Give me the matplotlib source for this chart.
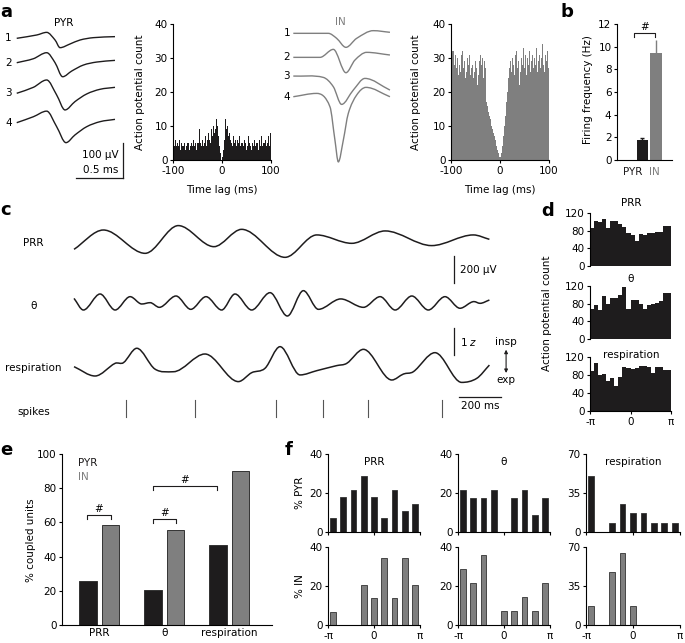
import numpy as np
import matplotlib
matplotlib.use('Agg')
import matplotlib.pyplot as plt
import matplotlib.patches as patches
from matplotlib.path import Path

# ------------------------------------------------------------
# Data
# ------------------------------------------------------------
# panel a: mean spike waveforms on 4 channels (time in ms, amplitude in uV)
pyr_wave_t = [
    [0, 0.213, 0.319, 0.408, 0.461, 0.567, 0.674, 0.816, 1.046],
    [0, 0.177, 0.319, 0.408, 0.489, 0.585, 0.709, 0.851, 1.046],
    [0, 0.177, 0.319, 0.425, 0.514, 0.620, 0.745, 0.887, 1.046],
    [0, 0.177, 0.319, 0.425, 0.524, 0.620, 0.745, 0.887, 1.046],
]
pyr_wave_v = [
    [0, 9.5, 17, -4.8, -26.7, -16.2, -4.8, 1.9, 4.8],
    [0, 11.4, 28.6, 0, -40, -23.8, -6.7, 1.9, 6.7],
    [0, 17, 38, -4.8, -47.6, -23.8, -1.9, 11.4, 17],
    [0, 17, 33, -11.4, -57, -35, -11.4, 2.9, 9.5],
]
in_wave_t = [
    [0, 0.372, 0.461, 0.560, 0.674, 0.851, 1.028],
    [0, 0.284, 0.426, 0.560, 0.656, 0.780, 1.028],
    [0, 0.319, 0.426, 0.514, 0.638, 0.762, 1.028],
    [0, 0.248, 0.390, 0.443, 0.479, 0.532, 0.585, 0.674, 0.773, 1.028],
]
in_wave_v = [
    [0, 0, -14.3, -40, -14.3, 7.6, 2.9],
    [0, 0, 22.8, -43.8, -7.6, 14.3, 6.7],
    [0, -3.8, -30.5, -80.9, -40, -6.7, -40],
    [0, 9.5, -28.6, -124, -186, -124, -47.6, 4.8, 26.7, 0],
]

# panel a: autocorrelograms, 2 ms bins from -100 to 100 ms
pyr_acg = [8, 4, 6, 4, 5, 4, 6, 3, 5, 4, 4, 5, 3, 4, 5, 5, 3, 4, 5, 4,
           6, 4, 5, 3, 5, 6, 5, 9, 5, 4, 6, 4, 5, 7, 4, 6, 8, 6, 5, 9,
           7, 10, 8, 9, 12, 10, 7, 4, 2, 0,
           1, 3, 6, 12, 9, 10, 7, 8, 6, 5, 4, 7, 5, 6, 4, 6, 5, 7, 4, 5,
           5, 4, 6, 5, 3, 6, 4, 7, 5, 4, 3, 5, 4, 6, 4, 5, 5, 3, 6, 4,
           7, 4, 5, 5, 6, 4, 5, 7, 4, 8]
in_acg = [26, 32, 32, 28, 31, 27, 30, 25, 28, 26, 31, 32, 27, 29, 24, 26, 30, 28, 31, 25,
          27, 28, 24, 26, 29, 30, 27, 22, 25, 29, 31, 28, 30,
          24, 29, 27, 17, 16, 14, 13, 12, 10, 9, 8, 7, 6, 4, 3, 2, 1,
          1, 2, 4, 7, 10, 13, 17, 20, 24, 27, 29, 26, 30, 28, 25, 31, 32, 27, 29, 22,
          26, 30, 28, 33, 27, 29, 31, 25, 30, 28, 32, 26, 29, 31, 27, 30, 28, 33, 26, 29,
          31, 27, 30, 34, 28, 26, 31, 29, 32, 27]

# panel b: firing frequency
cell_types = ['PYR', 'IN']
rate_mean = [1.75, 9.45]
rate_err = [0.15, 1.15]

# panel c: example traces (time in ms)
prr_t = [0, 141, 341, 500, 671, 804, 1012, 1164, 1332, 1492, 1715, 1915, 1992]
prr_v = [-70, 75, -100, 108, -50, 80, -130, 38, -25, 68, -42, 38, 5]
theta_t = [0, 45, 125, 197, 269, 325, 365, 409, 489, 560, 633, 708, 772, 852, 940,
           1023, 1100, 1172, 1279, 1388, 1468, 1540, 1620, 1699, 1779, 1851, 1918, 1947, 1992]
theta_v = [12, -75, 45, -75, 25, -30, -20, -55, 30, -70, 25, -75, 45, -75, 55,
           -120, 70, -70, 8, -55, 25, -75, 30, -75, 25, -62, -12, -25, 0]
resp_t = [0, 101, 197, 237, 301, 388, 476, 628, 788, 852, 916, 988, 1084, 1164,
          1260, 1308, 1388, 1524, 1580, 1627, 1731, 1859, 1931, 1992]
resp_z = [0, -0.35, 0.125, 0.15, 0.69, -0.09, -0.19, 0.475, -0.56, -0.225, -0.06, 0.75,
          -0.31, -0.15, 0.04, 0.125, 0.65, -0.5, -0.275, -0.19, 0.525, -0.59, -0.44, 0.06]
spike_times = [249, 580, 969, 1194, 1410, 1765]

# panel d: spike phase histograms (20 bins, -pi..pi)
d_titles = ['PRR', 'θ', 'respiration']
d_counts = [
    [85, 103, 99, 106, 85, 103, 101, 95, 88, 75, 70, 57, 72, 70, 74, 75, 76, 77, 91, 91],
    [67, 76, 65, 98, 79, 93, 92, 100, 118, 69, 89, 88, 79, 69, 76, 79, 81, 87, 104, 104],
    [89, 107, 80, 82, 66, 73, 56, 76, 97, 95, 93, 96, 99, 100, 98, 85, 98, 97, 91, 91],
]

# panel e: % coupled units
rhythms = ['PRR', 'θ', 'respiration']
coupled_pyr = [25.5, 20.3, 47.0]
coupled_in = [58.6, 55.5, 90.3]

# panel f: preferred phase distributions (9 bins, -pi..pi)
f_ymax = [40, 40, 70]
f_yticks = [[0, 20, 40], [0, 20, 40], [0, 35, 70]]
f_pyr = [
    [7.1, 17.9, 21.4, 28.6, 17.9, 7.1, 21.4, 10.7, 14.3],
    [21.7, 17.4, 17.4, 21.7, 0, 17.4, 21.7, 8.7, 17.4],
    [50.0, 0, 8.3, 25.0, 16.7, 16.7, 8.3, 8.3, 8.3],
]
f_in = [
    [6.9, 0, 0, 20.7, 13.8, 34.5, 13.8, 34.5, 20.7],
    [28.6, 21.4, 35.7, 0, 7.1, 7.1, 14.3, 7.1, 21.4],
    [16.7, 0, 47.6, 64.3, 16.7, 0, 0, 0, 0],
]

# ------------------------------------------------------------
# Style
# ------------------------------------------------------------
plt.rcParams['font.family'] = ['DejaVu Sans']
plt.rcParams['font.size'] = 7.5
plt.rcParams['axes.linewidth'] = 0.8
plt.rcParams['xtick.major.size'] = 2.5
plt.rcParams['ytick.major.size'] = 2.5
plt.rcParams['xtick.major.width'] = 0.8
plt.rcParams['ytick.major.width'] = 0.8
plt.rcParams['xtick.major.pad'] = 1.5
plt.rcParams['ytick.major.pad'] = 1.5
plt.rcParams['xtick.labelsize'] = 7.5
plt.rcParams['ytick.labelsize'] = 7.5

BLACK = '#1e1c1d'
GRAY = '#7f7f7f'
EDGE = '#333333'
FS = 7.5

W, H = 685, 643
fig = plt.figure(figsize=(W / 100, H / 100), dpi=100)


def box(x0, y0, x1, y1):
    # axes from pixel box (y measured from the top)
    return fig.add_axes([x0 / W, 1 - y1 / H, (x1 - x0) / W, (y1 - y0) / H])


def ftext(x, y, s, **kw):
    fig.text(x / W, 1 - y / H, s, **kw)


def clean(ax):
    ax.spines['top'].set_visible(False)
    ax.spines['right'].set_visible(False)


def smooth_line(ax, x, y, **kw):
    # smooth curve through the read points (flat at local extrema)
    x = np.asarray(x, float)
    y = np.asarray(y, float)
    n = len(x)
    s = np.zeros(n)
    for i in range(n):
        if i == 0:
            s[i] = (y[1] - y[0]) / (x[1] - x[0])
        elif i == n - 1:
            s[i] = (y[-1] - y[-2]) / (x[-1] - x[-2])
        elif (y[i] - y[i - 1]) * (y[i + 1] - y[i]) <= 0:
            s[i] = 0
        else:
            s[i] = (y[i + 1] - y[i - 1]) / (x[i + 1] - x[i - 1])
    verts = [(x[0], y[0])]
    codes = [Path.MOVETO]
    for i in range(n - 1):
        h = x[i + 1] - x[i]
        verts += [(x[i] + h / 3, y[i] + s[i] * h / 3),
                  (x[i + 1] - h / 3, y[i + 1] - s[i + 1] * h / 3),
                  (x[i + 1], y[i + 1])]
        codes += [Path.CURVE4] * 3
    ax.add_patch(patches.PathPatch(Path(verts, codes), fill=False, **kw))


# ============================================================
# Panel a: waveforms
# ============================================================
ftext(0, 12, 'a', fontsize=13, fontweight='bold', va='center')

ax = box(0, 10, 135, 185)
ax.set_xlim(-0.178, 1.259)
ax.set_ylim(-419, 80.9)
ax.axis('off')
pyr_offsets = [0, -69.7, -157, -241]
for k in range(4):
    smooth_line(ax, pyr_wave_t[k], np.array(pyr_wave_v[k]) + pyr_offsets[k],
                color=BLACK, lw=1.0)
    ax.text(-0.09, pyr_offsets[k], str(k + 1), ha='center', va='center', fontsize=FS)
ax.text(0.5, 44, 'PYR', ha='center', va='center', fontsize=FS)
# scale bars: 100 uV, 0.5 ms
ax.plot([1.131, 1.131], [-299, -399], color=BLACK, lw=0.9)
ax.plot([0.631, 1.131], [-399, -399], color=BLACK, lw=0.9)
ax.text(1.08, -334, '100 µV', ha='right', va='center', fontsize=FS)
ax.text(1.08, -377, '0.5 ms', ha='right', va='center', fontsize=FS)

ax = box(280, 10, 400, 185)
ax.set_xlim(-0.1415, 1.135)
ax.set_ylim(-433, 66.6)
ax.axis('off')
in_offsets = [0, -68.6, -122, -181]
for k in range(4):
    smooth_line(ax, in_wave_t[k], np.array(in_wave_v[k]) + in_offsets[k],
                color=GRAY, lw=1.0)
    ax.text(-0.07, in_offsets[k], str(k + 1), ha='center', va='center', fontsize=FS)
ax.text(0.5, 33, 'IN', ha='center', va='center', fontsize=FS, color=GRAY)

# autocorrelograms
edges = np.arange(-100, 100, 2)
for (x0, x1), vals, col, lx in [((173, 271), pyr_acg, BLACK, 140),
                                ((451, 549), in_acg, GRAY, 416)]:
    ax = box(x0, 24, x1, 160)
    ax.bar(edges, vals, width=2, align='edge', color=col, linewidth=0)
    ax.set_xlim(-100, 100)
    ax.set_ylim(0, 40)
    ax.set_xticks([-100, 0, 100])
    ax.set_xticklabels(['-100', '0', '100'])
    ax.set_yticks([0, 10, 20, 30, 40])
    clean(ax)
    ftext(lx, 92, 'Action potential count', rotation=90, ha='center', va='center', fontsize=FS)
    ftext((x0 + x1) / 2, 190, 'Time lag (ms)', ha='center', va='center', fontsize=FS)

# ============================================================
# Panel b: firing frequency
# ============================================================
ftext(561, 12, 'b', fontsize=13, fontweight='bold', va='center')
ax = box(617, 24, 672, 160)
xb = np.arange(len(cell_types))
ax.bar(xb, rate_mean, width=0.84, color=[BLACK, GRAY], linewidth=0)
ax.errorbar(xb[:1], rate_mean[:1], yerr=[[0], rate_err[:1]], fmt='none',
            ecolor=BLACK, elinewidth=0.8, capsize=1.5)
ax.errorbar(xb[1:], rate_mean[1:], yerr=[[0], rate_err[1:]], fmt='none',
            ecolor=GRAY, elinewidth=1.0, capsize=0)
ax.set_xlim(-1.85, 2.16)
ax.set_ylim(0, 12)
ax.set_yticks(range(0, 13, 2))
ax.set_xticks([])
clean(ax)
# category labels sit slightly left of the bars, as in the original
ax.text(-0.72, -1.05, cell_types[0], ha='center', va='center', fontsize=FS,
        color=BLACK, clip_on=False)
ax.text(0.88, -1.05, cell_types[1], ha='center', va='center', fontsize=FS,
        color=GRAY, clip_on=False)
ax.plot([-0.6, -0.6, 0.93, 0.93], [10.85, 11.25, 11.25, 10.85], color=BLACK, lw=0.8)
ax.text(0.17, 11.3, '#', ha='center', va='bottom', fontsize=FS)
ftext(588, 90, 'Firing frequency (Hz)', rotation=90, ha='center', va='center', fontsize=FS)

# ============================================================
# Panel c: traces
# ============================================================
ftext(0, 210, 'c', fontsize=13, fontweight='bold', va='center')
ax = box(0, 215, 685, 425)
ax.set_xlim(-355, 2930)
ax.set_ylim(0, 1575)
ax.axis('off')
prr_base, theta_base, resp_base = 1387.5, 937.5, 437.5
z_unit = 200
smooth_line(ax, prr_t, np.array(prr_v) + prr_base, color=BLACK, lw=1.1)
smooth_line(ax, theta_t, np.array(theta_v) + theta_base, color=BLACK, lw=1.1)
smooth_line(ax, resp_t, np.array(resp_z) * z_unit + resp_base, color=BLACK, lw=1.1)
for st in spike_times:
    ax.plot([st, st], [60, 187], color='#555555', lw=0.8)
for lab, yy in [('PRR', 1365), ('θ', 892), ('respiration', 427), ('spikes', 97)]:
    ax.text(-194, yy, lab, ha='center', va='center', fontsize=FS)
# scale bars
ax.plot([1823, 1823], [1065, 1265], color=BLACK, lw=0.9)
ax.text(1850, 1165, '200 µV', ha='left', va='center', fontsize=FS)
ax.plot([1823, 1823], [525, 525 + z_unit], color=BLACK, lw=0.9)
ax.text(1850, 625, r'1 $\it{z}$', ha='left', va='center', fontsize=FS)
ax.plot([1846, 2046], [210, 210], color=BLACK, lw=0.9)
ax.text(1946, 140, '200 ms', ha='center', va='center', fontsize=FS)
ax.text(2072, 622, 'insp', ha='center', va='center', fontsize=FS)
ax.text(2072, 337, 'exp', ha='center', va='center', fontsize=FS)
ax.annotate('', xy=(2072, 565), xytext=(2072, 390),
            arrowprops=dict(arrowstyle='<|-|>', color=BLACK, lw=0.8,
                            mutation_scale=5, shrinkA=0, shrinkB=0))

# ============================================================
# Panel d: phase histograms
# ============================================================
ftext(541, 211, 'd', fontsize=13, fontweight='bold', va='center')
d_boxes = [(213, 266), (286, 339), (357, 411)]
nb = len(d_counts[0])
d_edges = np.linspace(-np.pi, np.pi, nb + 1)
for i, (y0, y1) in enumerate(d_boxes):
    ax = box(590, y0, 671, y1)
    ax.bar(d_edges[:-1], d_counts[i], width=2 * np.pi / nb, align='edge',
           color=BLACK, linewidth=0)
    ax.set_xlim(-np.pi, np.pi)
    ax.set_ylim(0, 120)
    ax.set_yticks([0, 40, 80, 120])
    clean(ax)
    if i < 2:
        ax.set_xticks([])
        ax.spines['bottom'].set_visible(False)
    else:
        ax.set_xticks([-np.pi, 0, np.pi])
        ax.set_xticklabels(['-π', '0', 'π'])
ftext(631, 203, d_titles[0], ha='center', va='center', fontsize=FS)
ftext(631, 279, d_titles[1], ha='center', va='center', fontsize=FS)
ftext(631, 355, d_titles[2], ha='center', va='center', fontsize=FS)
ftext(547, 313, 'Action potential count', rotation=90, ha='center', va='center', fontsize=FS)

# ============================================================
# Panel e: % coupled units
# ============================================================
ftext(0, 450, 'e', fontsize=13, fontweight='bold', va='center')
ax = box(62, 454, 272, 625)
xe = np.arange(len(rhythms))
ax.bar(xe - 0.174, coupled_pyr, width=0.27, color=BLACK, edgecolor=EDGE, linewidth=0.7)
ax.bar(xe + 0.174, coupled_in, width=0.27, color=GRAY, edgecolor=EDGE, linewidth=0.7)
ax.set_xlim(-0.574, 2.66)
ax.set_ylim(0, 100)
ax.set_yticks(range(0, 101, 20))
ax.set_xticks(xe)
ax.set_xticklabels(rhythms)
ax.tick_params(axis='x', length=0, pad=2)
clean(ax)
ax.text(-0.33, 94.5, 'PYR', ha='left', va='center', fontsize=FS, color=BLACK)
ax.text(-0.33, 86.5, 'IN', ha='left', va='center', fontsize=FS, color=GRAY)
for xa, xb2, yt in [(-0.19, 0.18, 64.3), (0.83, 1.18, 62.0), (0.83, 1.81, 81.3)]:
    ax.plot([xa, xa, xb2, xb2], [yt - 2.2, yt, yt, yt - 2.2], color=BLACK, lw=0.8)
    ax.text((xa + xb2) / 2, yt + 0.8, '#', ha='center', va='bottom', fontsize=FS)
ftext(31, 540, '% coupled units', rotation=90, ha='center', va='center', fontsize=FS)

# ============================================================
# Panel f: preferred phase distributions
# ============================================================
ftext(285, 450, 'f', fontsize=13, fontweight='bold', va='center')
f_cols = [(328, 420), (458, 550), (586, 680)]
f_rows = [(454, 532), (547, 625)]
nf = len(f_pyr[0])
f_w = 2 * np.pi / nf
f_centers = np.linspace(-np.pi + f_w / 2, np.pi - f_w / 2, nf)
for c, (x0, x1) in enumerate(f_cols):
    for r, (y0, y1) in enumerate(f_rows):
        ax = box(x0, y0, x1, y1)
        vals = f_pyr[c] if r == 0 else f_in[c]
        col = BLACK if r == 0 else GRAY
        ax.bar(f_centers, vals, width=f_w * 0.56, color=col, edgecolor=EDGE, linewidth=0.6)
        ax.set_xlim(-np.pi, np.pi)
        ax.set_ylim(0, f_ymax[c])
        ax.set_yticks(f_yticks[c])
        ax.set_xticks([-np.pi, 0, np.pi])
        if r == 0:
            ax.set_xticklabels([])
            ax.text(0.5, 0.9, rhythms[c], transform=ax.transAxes,
                    ha='center', va='center', fontsize=FS)
        else:
            ax.set_xticklabels(['-π', '0', 'π'])
        clean(ax)
ftext(300, 493, '% PYR', rotation=90, ha='center', va='center', fontsize=FS)
ftext(300, 586, '% IN', rotation=90, ha='center', va='center', fontsize=FS)

fig.savefig('out.png', dpi=100)
plt.close(fig)
